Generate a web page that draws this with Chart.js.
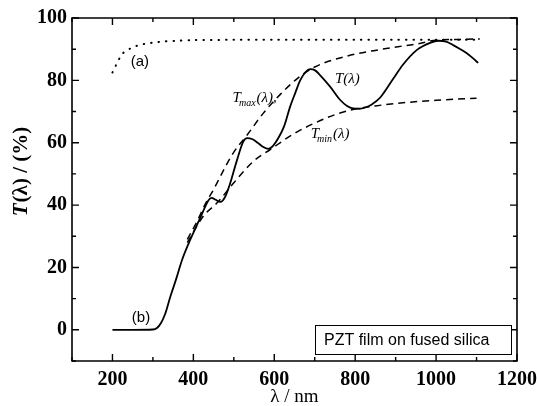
<!DOCTYPE html>
<html>
<head>
<meta charset="utf-8">
<script src="https://cdn.jsdelivr.net/npm/chart.js@4.4.1/dist/chart.umd.min.js"></script>
<style>
  html, body { margin: 0; padding: 0; background: #fff; }
  #wrap { width: 537px; height: 406px; }
</style>
</head>
<body>
<div id="wrap"><canvas id="chart" width="537" height="406"></canvas></div>
<script>
// curve (a): bare fused silica substrate
const subX = [200, 205, 211, 218, 224, 232, 244, 255, 265, 285, 306, 330, 360, 400, 500, 600, 700, 800, 900, 1000, 1110];
const subY = [82.5, 83.8, 85.5, 87.2, 88.5, 89.3, 90.2, 90.8, 91.3, 91.8, 92.2, 92.5, 92.7, 92.9, 93, 93, 93, 93, 93, 93, 93];

// curve (b): T(lambda) of the PZT film
const filmX = [200, 250, 300, 310, 320, 330, 343, 358, 372, 392, 405, 417, 429, 437, 445, 455, 467, 478, 491, 508, 523, 533, 545, 560, 573, 585, 597, 610, 625, 639, 652, 664, 677, 689, 701, 713, 738, 763, 780, 795, 810, 825, 840, 862, 894, 918, 952, 985, 1005, 1025, 1042, 1060, 1076, 1090, 1104];
const filmY = [0, 0, 0.1, 0.6, 2.2, 5, 10.6, 16.5, 22.4, 28.8, 32.5, 35.9, 39.4, 41.5, 42.3, 41.7, 41, 42.5, 47, 54.5, 60.3, 61.5, 61.2, 59.9, 58.6, 58, 59, 61.5, 65.5, 71.5, 76, 80, 82.6, 83.6, 83.2, 81.7, 78, 73.7, 71.8, 71, 70.9, 71.3, 72.2, 74.5, 80.5, 85, 89.7, 92, 92.7, 92.4, 91.3, 90, 88.7, 87.2, 85.6];

// envelopes
const tmaxX = [385, 410, 430, 450, 480, 500, 533, 573, 615, 656, 700, 780, 862, 911, 950, 1000, 1050, 1108];
const tmaxY = [29, 35, 40.5, 45, 52.5, 57, 62.5, 69.5, 75.5, 80.5, 84.3, 87.8, 89.9, 90.9, 91.6, 92.9, 93.1, 93.3];
const tminX = [385, 425, 460, 499, 548, 590, 650, 700, 750, 800, 850, 900, 1000, 1100];
const tminY = [28, 36.5, 40.9, 47, 54, 57.8, 63, 66.3, 69, 70.8, 71.8, 72.6, 73.6, 74.3];

// axis ticks
const xTicks = [200, 400, 600, 800, 1000, 1200];
const xMinor = [100, 300, 500, 700, 900, 1100];
const yTicks = [0, 20, 40, 60, 80, 100];
const yMinor = [-10, 10, 30, 50, 70, 90];

const pts = (xs, ys) => xs.map((x, i) => ({ x, y: ys[i] }));

const serif = '"Liberation Serif", "Times New Roman", serif';
const sans = '"Liberation Sans", Arial, sans-serif';

// frame with inward ticks, text labels and the caption box
const decorPlugin = {
  id: 'decor',
  afterDraw(chart) {
    const ctx = chart.ctx;
    const a = chart.chartArea;
    const xs = chart.scales.x, ys = chart.scales.y;
    const X = v => xs.getPixelForValue(v), Y = v => ys.getPixelForValue(v);
    ctx.save();
    ctx.strokeStyle = '#000';
    ctx.fillStyle = '#000';
    ctx.lineWidth = 1.6;
    ctx.beginPath();
    ctx.rect(a.left, a.top, a.right - a.left, a.bottom - a.top);
    ctx.stroke();

    ctx.lineWidth = 1.4;
    ctx.beginPath();
    const tx = (v, len) => {
      const px = X(v);
      ctx.moveTo(px, a.bottom); ctx.lineTo(px, a.bottom - len);
      ctx.moveTo(px, a.top); ctx.lineTo(px, a.top + len);
    };
    const ty = (v, len) => {
      const py = Y(v);
      ctx.moveTo(a.left, py); ctx.lineTo(a.left + len, py);
      ctx.moveTo(a.right, py); ctx.lineTo(a.right - len, py);
    };
    xTicks.forEach(v => tx(v, 7));
    xMinor.forEach(v => tx(v, 4));
    yTicks.forEach(v => ty(v, 7));
    yMinor.forEach(v => ty(v, 4));
    ctx.stroke();

    // y axis title, italic T
    ctx.save();
    ctx.translate(22, 172);
    ctx.rotate(-Math.PI / 2);
    ctx.textBaseline = 'middle';
    const f1 = 'italic bold 21px ' + serif, f2 = 'bold 21px ' + serif;
    ctx.font = f1; const w1 = ctx.measureText('T').width;
    ctx.font = f2; const w2 = ctx.measureText('(λ) / (%)').width;
    let sx = -(w1 + w2) / 2;
    ctx.font = f1; ctx.fillText('T', sx, 0);
    ctx.font = f2; ctx.fillText('(λ) / (%)', sx + w1 + 1, 0);
    ctx.restore();

    ctx.textBaseline = 'alphabetic';
    ctx.font = '15px ' + sans;
    ctx.fillText('(a)', X(245), Y(84.5));
    ctx.fillText('(b)', X(248), Y(2.5));

    // T(λ), Tmax(λ), Tmin(λ)
    const sub = (txt, px, py, s) => {
      ctx.font = 'italic 15px ' + serif;
      ctx.fillText('T', px, py);
      let w = ctx.measureText('T').width;
      ctx.font = 'italic 10px ' + serif;
      ctx.fillText(s, px + w - 2, py + 4);
      w += ctx.measureText(s).width - 1;
      ctx.font = 'italic 15px ' + serif;
      ctx.fillText(txt, px + w, py);
    };
    ctx.font = 'italic 15px ' + serif;
    ctx.fillText('T(λ)', X(750), Y(79));
    sub('(λ),', X(497), Y(73), 'max');
    sub('(λ)', X(690), Y(61.5), 'min');

    // caption box
    const bx = 315, by = 325, bw = 196, bh = 29;
    ctx.fillStyle = '#fff';
    ctx.fillRect(bx, by, bw, bh);
    ctx.lineWidth = 1;
    ctx.strokeRect(bx + 0.5, by + 0.5, bw, bh);
    ctx.fillStyle = '#000';
    ctx.font = '16px ' + sans;
    ctx.textBaseline = 'middle';
    ctx.fillText('PZT film on fused silica', bx + 9, by + bh / 2 + 1);
    ctx.restore();
  }
};

new Chart(document.getElementById('chart'), {
  type: 'line',
  data: {
    datasets: [
      {
        label: '(a)',
        data: pts(subX, subY),
        borderColor: '#000',
        borderWidth: 2,
        borderDash: [0.5, 7],
        borderCapStyle: 'round',
        pointRadius: 0,
        tension: 0.3
      },
      {
        label: 'T(λ)',
        data: pts(filmX, filmY),
        borderColor: '#000',
        borderWidth: 1.8,
        pointRadius: 0,
        cubicInterpolationMode: 'monotone'
      },
      {
        label: 'Tmax(λ)',
        data: pts(tmaxX, tmaxY),
        borderColor: '#000',
        borderWidth: 1.5,
        borderDash: [7, 5],
        pointRadius: 0,
        cubicInterpolationMode: 'monotone'
      },
      {
        label: 'Tmin(λ)',
        data: pts(tminX, tminY),
        borderColor: '#000',
        borderWidth: 1.5,
        borderDash: [7, 5],
        pointRadius: 0,
        cubicInterpolationMode: 'monotone'
      }
    ]
  },
  options: {
    responsive: false,
    animation: false,
    layout: { padding: { top: 18, right: 20, left: 0, bottom: 0 } },
    plugins: { legend: { display: false }, tooltip: { enabled: false } },
    scales: {
      x: {
        type: 'linear',
        min: 100,
        max: 1200,
        afterBuildTicks: s => { s.ticks = xTicks.map(v => ({ value: v })); },
        afterFit: s => { s.height = 45; s.paddingLeft = 0; s.paddingRight = 0; },
        grid: { display: false, drawTicks: false },
        border: { display: false },
        ticks: { color: '#000', padding: 7, maxRotation: 0, callback: v => String(v), font: { family: serif, size: 20, weight: 'bold' } },
        title: { display: true, text: 'λ / nm', color: '#000', padding: { top: 0, bottom: -2 }, font: { family: serif, size: 19 } }
      },
      y: {
        type: 'linear',
        min: -10,
        max: 100,
        afterBuildTicks: s => { s.ticks = yTicks.map(v => ({ value: v })); },
        afterFit: s => { s.width = 72; s.paddingTop = 0; s.paddingBottom = 0; },
        grid: { display: false, drawTicks: false },
        border: { display: false },
        ticks: { color: '#000', padding: 5, callback: v => String(v), font: { family: serif, size: 20, weight: 'bold' } }
      }
    }
  },
  plugins: [decorPlugin]
});
</script>
</body>
</html>
